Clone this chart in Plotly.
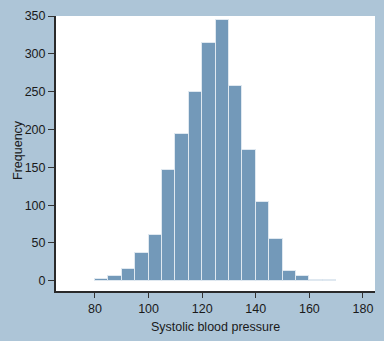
import plotly.graph_objects as go

bin_starts = [80, 85, 90, 95, 100, 105, 110, 115, 120, 125, 130, 135, 140, 145, 150, 155, 160, 165]
counts = [3, 6, 16, 37, 60, 147, 194, 250, 314, 345, 257, 173, 104, 55, 13, 6, 1, 1]
bin_width = 5
x_ticks = [80, 100, 120, 140, 160, 180]
y_ticks = [0, 50, 100, 150, 200, 250, 300, 350]

centers = [s + bin_width / 2 for s in bin_starts]

fig = go.Figure(go.Bar(
    x=centers, y=counts, width=[bin_width] * len(counts),
    marker=dict(color="#7399b9", line=dict(color="#dfe8f0", width=1)),
))

font = dict(family="Liberation Sans, Arial, sans-serif", size=12.5, color="#1a1a1a")
tickfont = dict(family="Liberation Sans, Arial, sans-serif", size=12.5, color="#1a1a1a")
fig.update_layout(
    width=384, height=341,
    margin=dict(l=56, r=9, t=15, b=48),
    paper_bgcolor="#adc5d7",
    plot_bgcolor="#ffffff",
    font=font,
    showlegend=False,
    bargap=0,
    xaxis=dict(
        range=[65.45, 184.5], tickvals=x_ticks, ticks="outside", ticklen=5,
        tickcolor="#333333", tickwidth=1, showgrid=False, zeroline=False,
        showline=True, linecolor="#2a2a2a", linewidth=2, tickfont=tickfont,
        title=dict(text="Systolic blood pressure", standoff=7, font=font),
    ),
    yaxis=dict(
        range=[-13.5, 350], tickvals=y_ticks, ticks="outside", ticklen=6,
        tickcolor="#333333", tickwidth=1, showgrid=False, zeroline=False,
        showline=True, linecolor="#2a2a2a", linewidth=2, tickfont=tickfont,
    ),
    annotations=[dict(
        text="Frequency", textangle=-90, xref="paper", yref="paper",
        x=-0.119, y=0.513, xanchor="center", yanchor="middle",
        showarrow=False, font=font,
    )],
)

fig.write_html("out.html")
